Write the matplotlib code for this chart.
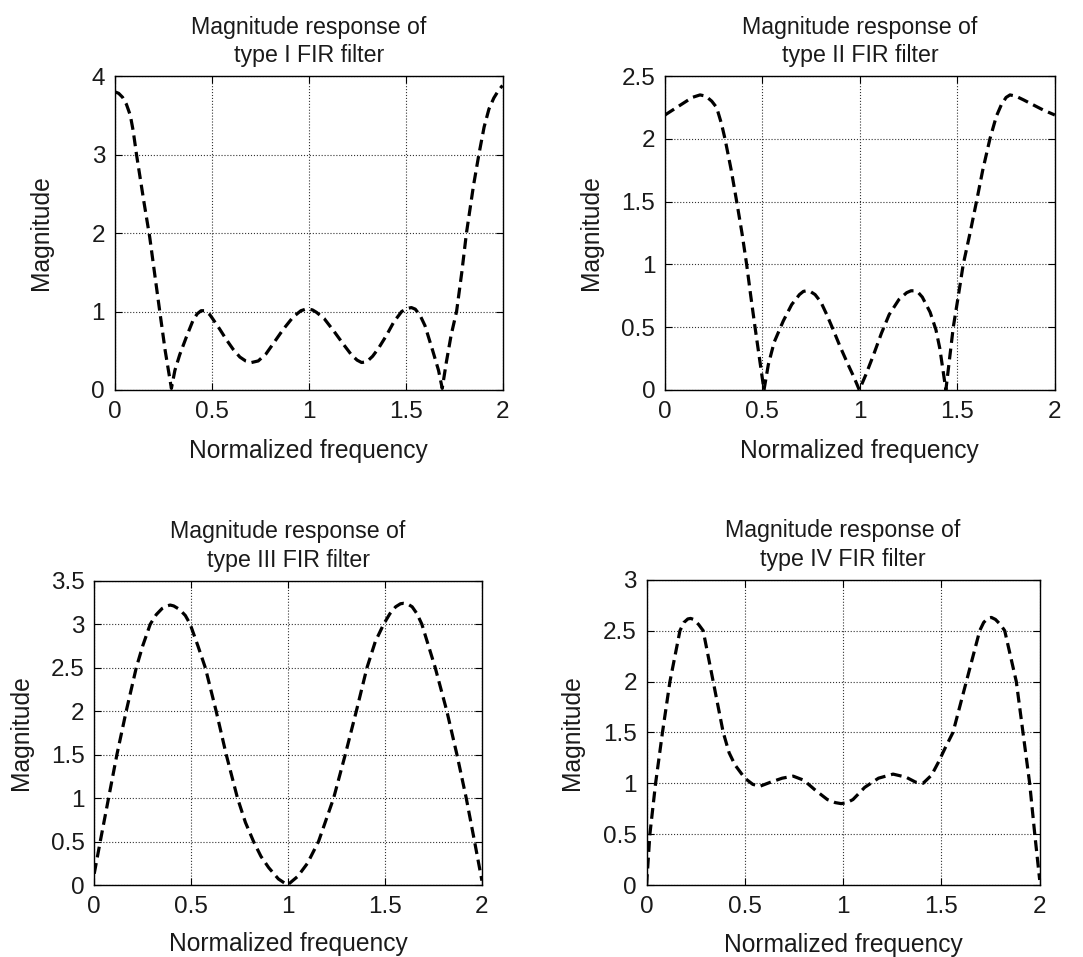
import numpy as np
import matplotlib
matplotlib.use('Agg')
import matplotlib.pyplot as plt
from matplotlib.ticker import FuncFormatter

plt.rcParams['font.family'] = ['Liberation Sans', 'DejaVu Sans']

# Значения: нормированная частота и модуль АЧХ
freq1 = [0.000, 0.020, 0.040, 0.060, 0.080, 0.095, 0.112, 0.150, 0.180, 0.210,
         0.232, 0.260, 0.292, 0.310, 0.335, 0.370, 0.404, 0.425, 0.445, 0.465,
         0.490, 0.507, 0.540, 0.576, 0.610, 0.645, 0.675, 0.705, 0.740, 0.780,
         0.820, 0.868, 0.920, 0.960, 0.985, 1.000, 1.020, 1.040, 1.080, 1.130,
         1.180, 1.220, 1.250, 1.273, 1.300, 1.330, 1.360, 1.400, 1.440, 1.480,
         1.510, 1.530, 1.550, 1.575, 1.600, 1.640, 1.670, 1.689, 1.710, 1.735,
         1.763, 1.790, 1.814, 1.850, 1.878, 1.905, 1.930, 1.955, 1.980, 2.000]
mag1 = [3.80, 3.78, 3.73, 3.64, 3.50, 3.30, 3.00, 2.40, 1.95, 1.40,
        1.00, 0.50, 0.02, 0.25, 0.45, 0.68, 0.89, 0.97, 1.01, 1.01,
        0.96, 0.90, 0.78, 0.64, 0.52, 0.42, 0.37, 0.35, 0.37, 0.46,
        0.60, 0.77, 0.93, 1.01, 1.03, 1.03, 1.02, 0.99, 0.91, 0.75,
        0.58, 0.45, 0.38, 0.35, 0.36, 0.43, 0.53, 0.69, 0.87, 1.00,
        1.04, 1.05, 1.03, 0.95, 0.82, 0.50, 0.25, 0.02, 0.35, 0.70,
        1.00, 1.50, 2.00, 2.60, 3.00, 3.35, 3.58, 3.72, 3.82, 3.88]

freq2 = [0.000, 0.050, 0.100, 0.140, 0.180, 0.210, 0.240, 0.265, 0.290, 0.308,
         0.340, 0.368, 0.395, 0.419, 0.440, 0.462, 0.485, 0.508, 0.530, 0.560,
         0.607, 0.650, 0.690, 0.710, 0.726, 0.745, 0.770, 0.800, 0.830, 0.863,
         0.900, 0.940, 0.970, 0.997, 1.030, 1.070, 1.110, 1.150, 1.200, 1.240,
         1.262, 1.282, 1.300, 1.320, 1.360, 1.390, 1.410, 1.441, 1.460, 1.479,
         1.505, 1.530, 1.565, 1.598, 1.630, 1.667, 1.700, 1.725, 1.750, 1.770,
         1.800, 1.840, 1.890, 1.940, 2.000]
mag2 = [2.19, 2.24, 2.29, 2.33, 2.35, 2.34, 2.30, 2.25, 2.12, 2.00,
        1.75, 1.50, 1.25, 1.00, 0.75, 0.50, 0.25, 0.00, 0.20, 0.38,
        0.55, 0.68, 0.76, 0.785, 0.79, 0.785, 0.76, 0.70, 0.60, 0.48,
        0.34, 0.20, 0.10, 0.00, 0.12, 0.28, 0.45, 0.60, 0.72, 0.775,
        0.79, 0.79, 0.775, 0.74, 0.62, 0.48, 0.33, 0.00, 0.25, 0.50,
        0.75, 1.00, 1.25, 1.50, 1.75, 2.00, 2.18, 2.27, 2.33, 2.35,
        2.34, 2.31, 2.27, 2.23, 2.19]

freq3 = [0.000, 0.031, 0.074, 0.117, 0.165, 0.217, 0.250, 0.289, 0.320, 0.350,
         0.375, 0.392, 0.410, 0.440, 0.470, 0.495, 0.535, 0.573, 0.629, 0.681,
         0.739, 0.780, 0.822, 0.860, 0.900, 0.950, 0.997, 1.050, 1.100, 1.157,
         1.235, 1.295, 1.352, 1.407, 1.450, 1.493, 1.525, 1.555, 1.580, 1.596,
         1.615, 1.640, 1.665, 1.690, 1.759, 1.819, 1.871, 1.919, 1.962, 2.000]
mag3 = [0.13, 0.50, 1.00, 1.50, 2.00, 2.50, 2.75, 3.00, 3.11, 3.18,
        3.21, 3.22, 3.21, 3.17, 3.10, 3.00, 2.75, 2.50, 2.00, 1.50,
        1.00, 0.72, 0.50, 0.33, 0.20, 0.07, 0.00, 0.10, 0.25, 0.50,
        1.00, 1.50, 2.00, 2.50, 2.80, 3.00, 3.12, 3.20, 3.235, 3.24,
        3.235, 3.20, 3.12, 3.00, 2.50, 2.00, 1.50, 1.00, 0.50, 0.05]

freq4 = [0.000, 0.017, 0.046, 0.081, 0.119, 0.170, 0.190, 0.210, 0.224, 0.240,
         0.265, 0.288, 0.339, 0.390, 0.420, 0.450, 0.500, 0.540, 0.576, 0.630,
         0.690, 0.746, 0.800, 0.860, 0.920, 0.960, 0.990, 1.020, 1.050, 1.110,
         1.180, 1.254, 1.320, 1.370, 1.407, 1.450, 1.483, 1.520, 1.559, 1.627,
         1.695, 1.715, 1.735, 1.754, 1.775, 1.800, 1.822, 1.881, 1.915, 1.949,
         1.975, 2.000]
mag4 = [0.00, 0.50, 1.00, 1.50, 2.00, 2.50, 2.58, 2.615, 2.62, 2.61,
        2.56, 2.50, 2.00, 1.50, 1.30, 1.18, 1.05, 0.99, 0.97, 1.01,
        1.05, 1.07, 1.03, 0.93, 0.84, 0.81, 0.80, 0.81, 0.84, 0.96,
        1.05, 1.09, 1.06, 1.01, 1.00, 1.08, 1.20, 1.35, 1.50, 2.00,
        2.50, 2.58, 2.62, 2.63, 2.61, 2.56, 2.50, 2.00, 1.50, 1.00,
        0.50, 0.05]

titles = ['Magnitude response of\ntype I FIR filter',
          'Magnitude response of\ntype II FIR filter',
          'Magnitude response of\ntype III FIR filter',
          'Magnitude response of\ntype IV FIR filter']
ymax = [4, 2.5, 3.5, 3]
ystep = [1, 0.5, 0.5, 0.5]
xticks = [0, 0.5, 1, 1.5, 2]

freqs = [freq1, freq2, freq3, freq4]
mags = [mag1, mag2, mag3, mag4]

# Положения осей в долях фигуры
rects = [[0.106, 0.5925, 0.358, 0.328],
         [0.614, 0.5925, 0.360, 0.328],
         [0.087, 0.0752, 0.358, 0.318],
         [0.597, 0.0752, 0.363, 0.319]]

txt = '#1a1a1a'
fs_title = 16.7
fs_label = 17.7
fs_tick = 17.5
fmt = FuncFormatter(lambda v, p: f'{v:g}')

fig = plt.figure(figsize=(10.83, 9.57), dpi=100)

for i in range(4):
    ax = fig.add_axes(rects[i])
    ax.plot(freqs[i], mags[i], color='k', linewidth=2.3,
            linestyle=(0, (3.4, 1.8)), solid_joinstyle='round')
    ax.set_xlim(0, 2)
    ax.set_ylim(0, ymax[i])
    ax.set_xticks(xticks)
    ax.set_yticks(np.arange(0, ymax[i] + 0.001, ystep[i]))
    ax.xaxis.set_major_formatter(fmt)
    ax.yaxis.set_major_formatter(fmt)
    ax.grid(True, linestyle=':', color='#333333', linewidth=0.8)
    ax.tick_params(direction='in', top=True, right=True, length=5,
                   width=0.8, labelsize=fs_tick, labelcolor=txt)
    ax.tick_params(axis='x', pad=8)
    ax.tick_params(axis='y', pad=7)
    for s in ax.spines.values():
        s.set_linewidth(1.0)
    ax.set_title(titles[i], fontsize=fs_title, color=txt, pad=10, linespacing=1.3)
    ax.set_xlabel('Normalized frequency', fontsize=fs_label, color=txt)
    ax.set_ylabel('Magnitude', fontsize=fs_label, color=txt)
    ax.xaxis.set_label_coords(0.5, -0.195)
    ax.yaxis.set_label_coords(-0.19, 0.5)
    ax.xaxis.label.set_va('center')
    ax.yaxis.label.set_va('center')

fig.savefig('out.png', dpi=100)
